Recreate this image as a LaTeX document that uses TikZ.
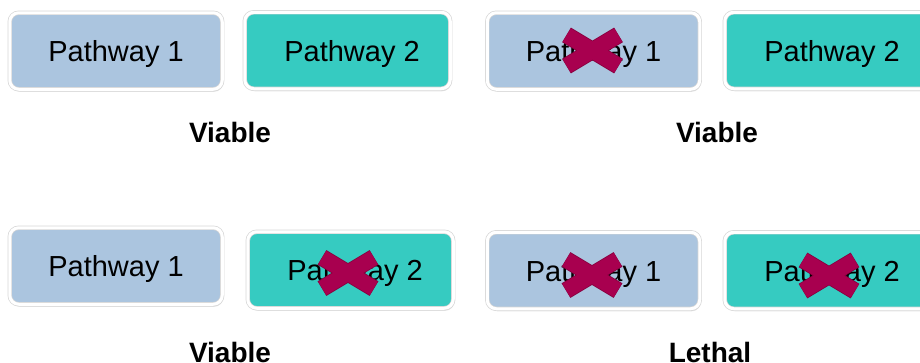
\documentclass[tikz,border=0pt]{standalone}
\usepackage{fontspec}
\setmainfont{Liberation Sans}
\usetikzlibrary{shadows}
\definecolor{pone}{HTML}{ABC5DF}
\definecolor{ptwo}{HTML}{36CBC1}
\definecolor{xfill}{HTML}{A8004F}
\definecolor{xline}{HTML}{86003E}
\tikzset{
  pbox/.style={draw=black!16, double=white, double distance=3pt, line width=0.7pt,
    rounded corners=9pt,
    minimum width=#1, minimum height=76.5pt, inner sep=0pt,
    text height=21pt, text depth=0pt,
    font=\fontsize{29}{34}\selectfont,
    drop shadow={opacity=0.22, shadow xshift=1pt, shadow yshift=-2.5pt}},
  pone box/.style={pbox=212.5pt, fill=pone},
  ptwo box/.style={pbox=205.5pt, fill=ptwo},
  verdict/.style={font=\bfseries\fontsize{28}{33}\selectfont, inner sep=0pt, text height=20pt, text depth=0pt},
  knockout/.pic={
    \draw[xline, line width=17pt] (-26,-15.6) -- (26,15.6) (-26,15.6) -- (26,-15.6);
    \draw[xfill, line width=15.4pt] (-25.7,-15.4) -- (25.7,15.4) (-25.7,15.4) -- (25.7,-15.4);
  }
}
\begin{document}
\begin{tikzpicture}[x=1pt,y=-1pt]
\useasboundingbox (0,0) rectangle (920,362);
% top left
\node[pone box] (a1) at (116,51) {Pathway 1};
\node[ptwo box] (a2) at (347.5,50.5) {\hspace*{9pt}Pathway 2};
\node[verdict] (va) at (230,132) {Viable};
% top right
\node[pone box] (b1) at (593.5,51) {Pathway 1};
\node[ptwo box] (b2) at (827.5,50.5) {\hspace*{9pt}Pathway 2};
\node[verdict] (vb) at (717,132) {Viable};
\pic at (592.5,50.5) {knockout};
% bottom left
\node[pone box] (c1) at (116,266) {Pathway 1};
\node[ptwo box] (c2) at (350.5,270) {\hspace*{9pt}Pathway 2};
\node[verdict] (vc) at (230,352) {Viable};
\pic at (348,273) {knockout};
% bottom right
\node[pone box] (d1) at (593.5,270.5) {Pathway 1};
\node[ptwo box] (d2) at (827.5,270.5) {\hspace*{9pt}Pathway 2};
\node[verdict] (vd) at (710,352) {Lethal};
\pic at (592,275) {knockout};
\pic at (829,275.5) {knockout};
\end{tikzpicture}
\end{document}
